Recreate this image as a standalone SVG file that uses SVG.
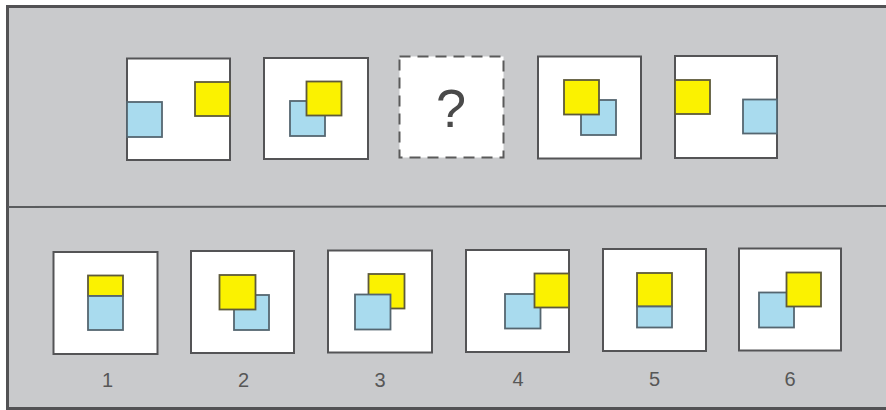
<svg xmlns="http://www.w3.org/2000/svg" width="886" height="410" viewBox="0 0 886 410">
<style>
.frame{fill:#c9cacc;stroke:#525254;stroke-width:3}
.div{stroke:#5a5c5e;stroke-width:2;fill:none}
.panel{fill:#ffffff;stroke:#545456;stroke-width:2}
.dash{fill:#ffffff;stroke:#5a5a5a;stroke-width:2;stroke-dasharray:11 7}
.y{fill:#fbf200;stroke:#5e5a3a;stroke-width:1.8}
.b{fill:#a9dbee;stroke:#556670;stroke-width:1.8}
.lbl{font-family:"Liberation Sans",Arial,sans-serif;font-size:20px;fill:#575757;text-anchor:middle}
.q{font-family:"Liberation Sans",Arial,sans-serif;font-size:54px;fill:#4a4a4a;text-anchor:middle}
</style>
<rect class="frame" x="7.5" y="6.5" width="890" height="402"/>
<g id="connectors">
<line class="div" x1="8" y1="207" x2="886" y2="206"/>
</g>
<g id="top1">
<rect class="panel" x="127" y="58.5" width="103" height="101.5"/>
<rect class="b" x="127" y="102" width="35" height="35"/>
<rect class="y" x="195" y="82" width="35" height="34"/>
</g>
<g id="top2">
<rect class="panel" x="264" y="58" width="104" height="101"/>
<rect class="b" x="290" y="101" width="35" height="35"/>
<rect class="y" x="306.5" y="81.5" width="35" height="34"/>
</g>
<g id="top3">
<rect class="dash" x="399.5" y="56.5" width="104" height="101"/>
<text class="q" x="451" y="127">?</text>
</g>
<g id="top4">
<rect class="panel" x="538" y="56.5" width="103" height="102"/>
<rect class="b" x="581" y="100" width="35" height="35"/>
<rect class="y" x="564" y="80" width="35" height="34.5"/>
</g>
<g id="top5">
<rect class="panel" x="675" y="56" width="102" height="102"/>
<rect class="y" x="675" y="80" width="35" height="34"/>
<rect class="b" x="743" y="99.5" width="34" height="34"/>
</g>
<g id="opt1">
<rect class="panel" x="53.5" y="252" width="104" height="102"/>
<rect class="y" x="88" y="275.5" width="35" height="20.5"/>
<rect class="b" x="88" y="296" width="35" height="34"/>
<text class="lbl" x="107.5" y="386.5">1</text>
</g>
<g id="opt2">
<rect class="panel" x="191" y="251" width="103" height="102"/>
<rect class="b" x="234" y="295" width="35" height="35"/>
<rect class="y" x="219.5" y="275" width="36" height="34.5"/>
<text class="lbl" x="243.5" y="386.5">2</text>
</g>
<g id="opt3">
<rect class="panel" x="328" y="250.5" width="104" height="102"/>
<rect class="y" x="368.5" y="274" width="36" height="34.5"/>
<rect class="b" x="355" y="294.5" width="35.5" height="35"/>
<text class="lbl" x="380" y="386.5">3</text>
</g>
<g id="opt4">
<rect class="panel" x="466" y="250" width="103" height="102"/>
<rect class="b" x="505" y="294" width="35.5" height="34.5"/>
<rect class="y" x="534.5" y="273.5" width="34.5" height="34"/>
<text class="lbl" x="518" y="386">4</text>
</g>
<g id="opt5">
<rect class="panel" x="603" y="249" width="103" height="102"/>
<rect class="y" x="637" y="273" width="35" height="33.5"/>
<rect class="b" x="637" y="306.5" width="35" height="21"/>
<text class="lbl" x="654.5" y="386">5</text>
</g>
<g id="opt6">
<rect class="panel" x="739" y="248.5" width="102" height="102"/>
<rect class="b" x="759" y="292.5" width="35" height="35"/>
<rect class="y" x="786.5" y="272.5" width="34.5" height="34"/>
<text class="lbl" x="790" y="386">6</text>
</g>
</svg>
